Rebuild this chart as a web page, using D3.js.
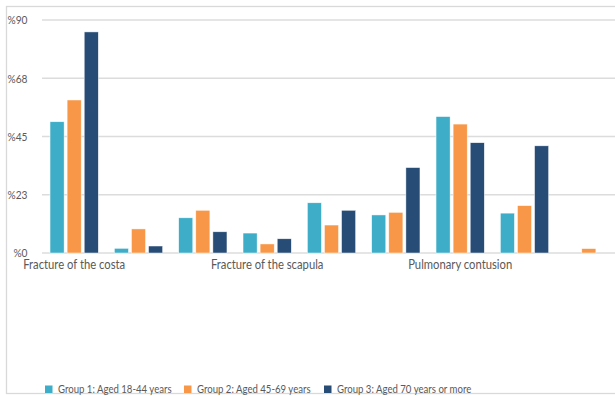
<!DOCTYPE html>
<html>
<head>
<meta charset="utf-8">
<script src="https://cdn.jsdelivr.net/npm/d3@7"></script>
<style>
  html, body { margin: 0; padding: 0; background: #fff; }
  svg { display: block; }
  text { font-family: Lato, "Open Sans", sans-serif; fill: #595959; }
</style>
</head>
<body>
<svg id="chart" width="615" height="396"></svg>
<script>
// Category axis labels (only every third category is labelled on the axis)
const categoryLabels = [
  "Fracture of the costa", "", "",
  "Fracture of the scapula", "", "",
  "Pulmonary contusion", "", ""
];

// Percentage of patients per age group
const group1 = [50.7, 1.8, 13.6, 7.7, 19.4, 14.7, 52.7, 15.4, 0];
const group2 = [59.1, 9.3, 16.5, 3.5, 10.8, 15.7, 49.8, 18.3, 1.7];
const group3 = [85.4, 2.7, 8.2, 5.5, 16.5, 33.0, 42.6, 41.4, 0];

const seriesNames = [
  "Group 1: Aged 18-44 years",
  "Group 2: Aged 45-69 years",
  "Group 3: Aged 70 years or more"
];
const seriesColors = ["#3DADC8", "#F79747", "#274C75"];

const yTicks = [0, 22.5, 45, 67.5, 90];

const series = [group1, group2, group3];

const svg = d3.select("#chart");
const W = 615, H = 396;

// Condense a text selection horizontally (narrow, Calibri-like setting)
function condense(sel, factor) {
  sel.each(function () {
    const n = this.getComputedTextLength();
    if (n > 0) {
      d3.select(this)
        .attr("textLength", n * factor)
        .attr("lengthAdjust", "spacingAndGlyphs");
    }
  });
}

// Chart frame
svg.append("rect")
  .attr("x", 6.5).attr("y", 6.5)
  .attr("width", 640).attr("height", 387)
  .attr("fill", "#fff")
  .attr("stroke", "#d9d9d9").attr("stroke-width", 1.3);

const plot = { left: 42, right: 621, top: 20, bottom: 253 };

const x = d3.scaleBand()
  .domain(d3.range(categoryLabels.length))
  .range([plot.left, plot.right])
  .paddingInner(0).paddingOuter(0);

const y = d3.scaleLinear()
  .domain([0, 90])
  .range([plot.bottom, plot.top]);

// Horizontal gridlines
svg.append("g")
  .selectAll("line")
  .data(yTicks)
  .join("line")
  .attr("x1", plot.left).attr("x2", W + 10)
  .attr("y1", d => y(d)).attr("y2", d => y(d))
  .attr("stroke", "#dcdcdc").attr("stroke-width", 1.4);

// Y tick labels
const yAxis = d3.axisLeft(y)
  .tickValues(yTicks)
  .tickSize(0)
  .tickPadding(0)
  .tickFormat(d => "%" + d3.format(".0f")(Math.round(d)));

const yg = svg.append("g")
  .attr("transform", `translate(27.5,0)`)
  .call(yAxis);
yg.select(".domain").remove();
yg.selectAll("text")
  .attr("font-size", 12)
  .attr("font-family", "Lato, 'Open Sans', sans-serif")
  .attr("fill", "#595959")
  .call(condense, 0.85);

// Bars
const inner = d3.scaleBand()
  .domain(d3.range(series.length))
  .range([0, x.bandwidth()])
  .paddingInner(0.176)
  .paddingOuter(0.47);

const groups = svg.append("g")
  .selectAll("g")
  .data(categoryLabels.map((_, i) => i))
  .join("g")
  .attr("transform", i => `translate(${x(i)},0)`);

groups.selectAll("rect")
  .data(i => series.map((s, k) => ({ k, v: s[i] })))
  .join("rect")
  .attr("x", d => inner(d.k))
  .attr("width", inner.bandwidth())
  .attr("y", d => y(d.v))
  .attr("height", d => y(0) - y(d.v))
  .attr("fill", d => seriesColors[d.k])
  .attr("stroke", "#ffffff")
  .attr("stroke-width", 0.6)
  .attr("stroke-opacity", d => d.v > 0 ? 0.8 : 0);

// Category axis
const xAxis = d3.axisBottom(x)
  .tickSize(0)
  .tickPadding(7)
  .tickFormat(i => categoryLabels[i]);

const xg = svg.append("g")
  .attr("transform", `translate(0,${plot.bottom})`)
  .call(xAxis);
xg.select(".domain").remove();
xg.selectAll("text")
  .attr("font-size", 12.5)
  .attr("font-family", "Lato, 'Open Sans', sans-serif")
  .attr("fill", "#595959")
  .call(condense, 0.9);

// Legend
const legendX = [45, 184, 324];
const legend = svg.append("g");
seriesNames.forEach((name, k) => {
  legend.append("rect")
    .attr("x", legendX[k]).attr("y", 385.5)
    .attr("width", 7.5).attr("height", 7.5)
    .attr("fill", seriesColors[k]);
  legend.append("text")
    .attr("x", legendX[k] + 13).attr("y", 392.5)
    .attr("font-size", 12)
    .text(name)
    .call(condense, 0.8);
});
</script>
</body>
</html>
